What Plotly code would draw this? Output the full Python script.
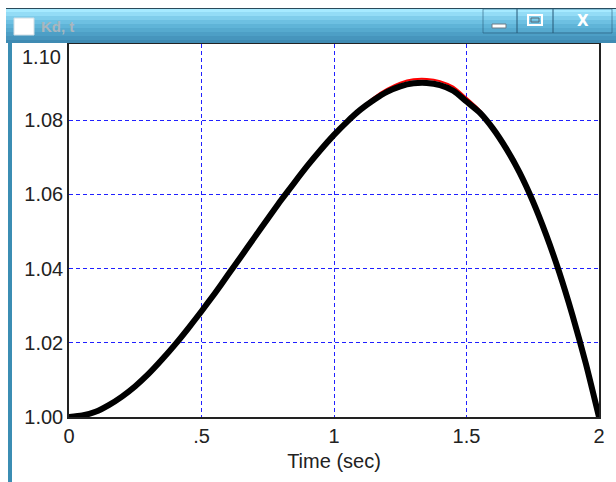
import plotly.graph_objects as go

# ---- data ----
time_s = [0.00, 0.05, 0.10, 0.15, 0.20, 0.25, 0.30, 0.35, 0.40, 0.45, 0.50,
          0.55, 0.60, 0.65, 0.70, 0.75, 0.80, 0.85, 0.90, 0.95, 1.00,
          1.05, 1.10, 1.15, 1.20, 1.25, 1.30, 1.35, 1.40, 1.45, 1.50,
          1.55, 1.60, 1.65, 1.70, 1.75, 1.80, 1.85, 1.90, 1.95, 2.00]
kd_act = [1.0000, 1.0004, 1.0014, 1.0032, 1.0055, 1.0083, 1.0116, 1.0154, 1.0195, 1.0239, 1.0285,
          1.0333, 1.0383, 1.0433, 1.0484, 1.0534, 1.0584, 1.0631, 1.0677, 1.0720, 1.0760,
          1.0796, 1.0828, 1.0854, 1.0876, 1.0891, 1.0899, 1.0900, 1.0894, 1.0879, 1.0850,
          1.0820, 1.0777, 1.0723, 1.0659, 1.0582, 1.0492, 1.0390, 1.0274, 1.0145, 1.0000]
kd_ref = [1.0000, 1.0004, 1.0014, 1.0032, 1.0055, 1.0083, 1.0116, 1.0154, 1.0195, 1.0239, 1.0285,
          1.0333, 1.0383, 1.0433, 1.0484, 1.0534, 1.0584, 1.0631, 1.0677, 1.0720, 1.0760,
          1.0797, 1.0831, 1.0861, 1.0884, 1.0901, 1.0910, 1.0911, 1.0905, 1.0890, 1.0860,
          1.0827, 1.0780, 1.0723, 1.0659, 1.0582, 1.0492, 1.0390, 1.0274, 1.0145, 1.0000]
x_ticks = [0, 0.5, 1, 1.5, 2]
x_labels = ["0", ".5", "1", "1.5", "2"]
y_ticks = [1.00, 1.02, 1.04, 1.06, 1.08]
y_labels = ["1.00", "1.02", "1.04", "1.06", "1.08"]
window_title = "Kd, t"
x_title = "Time (sec)"

W, H = 616, 482
L, R, T, B = 69, 17, 44, 65
PW, PH = W - L - R, H - T - B

def px(x):
    return (x - L) / PW

def py(y):
    return (H - B - y) / PH

fig = go.Figure()
fig.add_trace(go.Scatter(x=time_s, y=kd_ref, mode="lines",
                         line=dict(color="#ff0000", width=2, shape="spline", smoothing=0.6),
                         hoverinfo="skip"))
fig.add_trace(go.Scatter(x=time_s, y=kd_act, mode="lines",
                         line=dict(color="#000000", width=6, shape="spline", smoothing=0.6),
                         hoverinfo="skip"))

font = "Liberation Sans, Arial, sans-serif"
shapes = []
# left window border
shapes.append(dict(type="rect", xref="paper", yref="paper", x0=px(8), x1=px(12), y0=py(482), y1=py(42),
                   fillcolor="#3b8db3", line=dict(width=0), layer="below"))
# title bar gradient strips
grad = [(8, 9, "#2a4a5a"), (9, 12, "#a6eaff"), (12, 16, "#93dcf6"), (16, 20, "#7fcdeb"), (20, 24, "#6dc0e2"),
        (24, 28, "#5fb4d8"), (28, 32, "#56aacf"), (32, 36, "#4d9fc6"), (36, 40, "#4695bd"), (40, 43, "#3f8bb3")]
for y0, y1, c in grad:
    shapes.append(dict(type="rect", xref="paper", yref="paper", x0=px(6), x1=px(616), y0=py(y1), y1=py(y0),
                       fillcolor=c, line=dict(width=0), layer="above"))
# title icon
shapes.append(dict(type="rect", xref="paper", yref="paper", x0=px(14), x1=px(34), y0=py(35), y1=py(18),
                   fillcolor="#ffffff", line=dict(color="#d0dde4", width=1), layer="above"))
# buttons
for x0, x1 in [(483, 517), (517, 553), (553, 612)]:
    shapes.append(dict(type="rect", xref="paper", yref="paper", x0=px(x0), x1=px(x1), y0=py(33), y1=py(9),
                       fillcolor="rgba(0,0,0,0)", line=dict(color="rgba(40,90,120,0.6)", width=1), layer="above"))
shapes.append(dict(type="rect", xref="paper", yref="paper", x0=px(492), x1=px(506), y0=py(28), y1=py(24),
                   fillcolor="#ffffff", line=dict(color="#6c7c88", width=1), layer="above"))
shapes.append(dict(type="rect", xref="paper", yref="paper", x0=px(528), x1=px(542), y0=py(25), y1=py(15),
                   fillcolor="rgba(0,0,0,0)", line=dict(color="#ffffff", width=2), layer="above"))
shapes.append(dict(type="rect", xref="paper", yref="paper", x0=px(531), x1=px(539), y0=py(22), y1=py(18),
                   fillcolor="rgba(0,0,0,0)", line=dict(color="#5a6a76", width=1), layer="above"))

annotations = [
    dict(text="<b>" + window_title + "</b>", xref="paper", yref="paper", x=px(39), y=py(27), xanchor="left",
         yanchor="middle", showarrow=False, font=dict(family=font, size=15, color="#a9b6be")),
    dict(text="<b>X</b>", xref="paper", yref="paper", x=px(583), y=py(21), xanchor="center", yanchor="middle",
         showarrow=False, font=dict(family="DejaVu Sans, sans-serif", size=15, color="#ffffff")),
    dict(text="1.10", xref="paper", yref="y", x=0, y=1.10, xanchor="right", yanchor="middle", xshift=-6,
         yshift=-11, showarrow=False, font=dict(family=font, size=20, color="#222222")),
]

fig.update_layout(
    width=W, height=H, margin=dict(l=L, r=R, t=T, b=B, pad=0),
    paper_bgcolor="#ffffff", plot_bgcolor="#ffffff", showlegend=False,
    shapes=shapes, annotations=annotations,
    xaxis=dict(range=[0, 2], tickvals=x_ticks, ticktext=x_labels, showgrid=True, gridcolor="#2020ff",
               griddash="4px,3px", gridwidth=1, zeroline=False, showline=True, linecolor="#222222",
               linewidth=1.5, mirror=True, ticks="", tickfont=dict(family=font, size=20, color="#222222"),
               title=dict(text=x_title, font=dict(family=font, size=20, color="#222222"), standoff=8)),
    yaxis=dict(range=[1.0, 1.1005], tickvals=y_ticks, ticktext=y_labels, showgrid=True, gridcolor="#2020ff",
               griddash="4px,3px", gridwidth=1, zeroline=False, showline=True, linecolor="#222222",
               linewidth=1.5, mirror=True, ticks="", tickfont=dict(family=font, size=20, color="#222222")),
)

fig.write_html("out.html")
